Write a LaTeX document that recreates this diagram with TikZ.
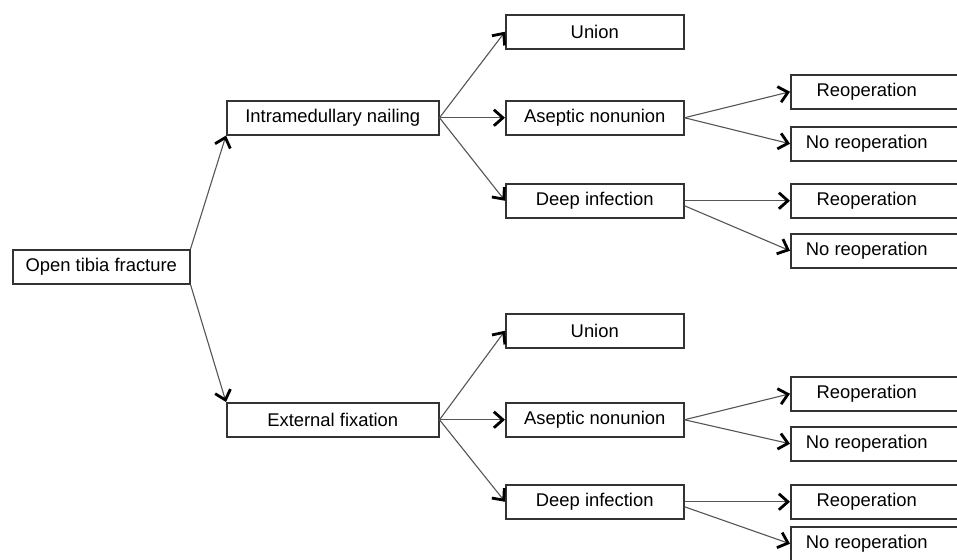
\documentclass[tikz,border=0pt]{standalone}
\usepackage{fontspec}
\setmainfont{Liberation Sans}
\usetikzlibrary{arrows.meta}
\definecolor{boxgray}{HTML}{333333}
\definecolor{linegray}{HTML}{555555}
\begin{document}
\begin{tikzpicture}[x=0.5pt,y=-0.5pt,
  txt/.style={font=\fontsize{9.2pt}{11pt}\selectfont, text=black},
  box/.style={draw=boxgray, line width=0.75pt, minimum height=17pt, inner sep=0pt, anchor=north west, txt},
  rootbox/.style={box, minimum width=88.5pt},
  lvlbox/.style={box, minimum width=106pt},
  midbox/.style={box, minimum width=89pt},
  endbox/.style={box, minimum width=95pt, label={[txt, xshift=-9.5pt]center:#1}},
  conn/.style={draw=linegray, line width=0.55pt, -{Straight Barb[length=4.5pt,width=8pt,line width=1.4pt,color=black]}}
]
\useasboundingbox (0,0) rectangle (957,559);
\fill[white] (0,0) rectangle (957,559);
\clip (0,0) rectangle (957,559);

\node[rootbox] (root) at (12,249) {Open tibia fracture};
\node[lvlbox] (im) at (226,100) {Intramedullary nailing};
\node[lvlbox] (ef) at (226,402) {External fixation};

\node[midbox] (un1) at (505,14) {Union};
\node[midbox] (an1) at (505,100) {Aseptic nonunion};
\node[midbox] (di1) at (505,183) {Deep infection};
\node[midbox] (un2) at (505,313) {Union};
\node[midbox] (an2) at (505,402) {Aseptic nonunion};
\node[midbox] (di2) at (505,484) {Deep infection};

\node[endbox=Reoperation] (r1) at (790,74) {};
\node[endbox=No reoperation] (n1) at (790,126) {};
\node[endbox=Reoperation] (r2) at (790,183) {};
\node[endbox=No reoperation] (n2) at (790,233) {};
\node[endbox=Reoperation] (r3) at (790,376) {};
\node[endbox=No reoperation] (n3) at (790,426) {};
\node[endbox=Reoperation] (r4) at (790,484) {};
\node[endbox=No reoperation] (n4) at (790,526) {};

\draw[conn] (root.north east) -- (im.south west);
\draw[conn] (root.south east) -- (ef.north west);

\draw[conn] (im.east) -- (un1.west);
\draw[conn] (im.east) -- (an1.west);
\draw[conn] (im.east) -- (di1.west);
\draw[conn] (ef.east) -- (un2.west);
\draw[conn] (ef.east) -- (an2.west);
\draw[conn] (ef.east) -- (di2.west);

\draw[conn] (an1.east) -- (r1.west);
\draw[conn] (an1.east) -- (n1.west);
\draw[conn] (di1.east) -- (r2.west);
\draw[conn] ([yshift=-2.5pt]di1.east) -- (n2.west);
\draw[conn] (an2.east) -- (r3.west);
\draw[conn] (an2.east) -- (n3.west);
\draw[conn] (di2.east) -- (r4.west);
\draw[conn] ([yshift=-2.5pt]di2.east) -- (n4.west);
\end{tikzpicture}
\end{document}
